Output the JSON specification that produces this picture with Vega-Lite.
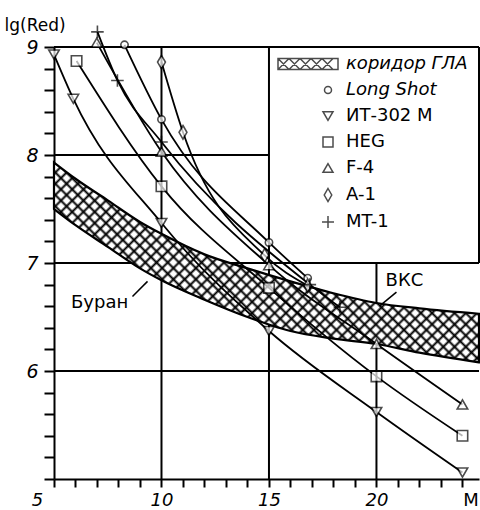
{
  "$schema": "https://vega.github.io/schema/vega-lite/v6.json",
  "width": 425,
  "height": 432,
  "autosize": {"type": "none"},
  "padding": {"left": 54, "top": 47, "right": 1, "bottom": 31},
  "background": "white",
  "config": {
    "view": {"stroke": null},
    "font": "DejaVu Sans",
    "legend": {"symbolBaseStrokeColor": "black"}
  },
  "datasets": {
    "band": [
      {"x": 5, "y": 7.93, "y2": 7.5},
      {"x": 6, "y": 7.78, "y2": 7.35},
      {"x": 7.5, "y": 7.58, "y2": 7.15},
      {"x": 9, "y": 7.38, "y2": 6.95},
      {"x": 10, "y": 7.27, "y2": 6.84},
      {"x": 12, "y": 7.08, "y2": 6.66},
      {"x": 14, "y": 6.95, "y2": 6.5},
      {"x": 16, "y": 6.83, "y2": 6.37},
      {"x": 18, "y": 6.72, "y2": 6.3},
      {"x": 20, "y": 6.63, "y2": 6.25},
      {"x": 22, "y": 6.58, "y2": 6.17},
      {"x": 24.77, "y": 6.53, "y2": 6.08}
    ],
    "grid": [
      {"x": 5, "x2": 24.77, "y": 9, "y2": 9},
      {"x": 5, "x2": 15, "y": 8, "y2": 8},
      {"x": 5, "x2": 24.77, "y": 7, "y2": 7},
      {"x": 5, "x2": 24.77, "y": 6, "y2": 6},
      {"x": 10, "x2": 10, "y": 5, "y2": 9},
      {"x": 15, "x2": 15, "y": 5, "y2": 9},
      {"x": 20, "x2": 20, "y": 5, "y2": 7},
      {"x": 24.77, "x2": 24.77, "y": 7, "y2": 9}
    ],
    "curves": [
      {"series": "Long Shot", "x": 8.28, "y": 9.02},
      {"series": "Long Shot", "x": 10, "y": 8.33},
      {"series": "Long Shot", "x": 15, "y": 7.19},
      {"series": "Long Shot", "x": 16.8, "y": 6.86},
      {"series": "ИТ-302 М", "x": 5, "y": 8.93},
      {"series": "ИТ-302 М", "x": 5.9, "y": 8.52},
      {"series": "ИТ-302 М", "x": 10, "y": 7.37},
      {"series": "ИТ-302 М", "x": 15, "y": 6.37},
      {"series": "ИТ-302 М", "x": 20, "y": 5.62},
      {"series": "ИТ-302 М", "x": 24, "y": 5.06},
      {"series": "HEG", "x": 6.05, "y": 8.87},
      {"series": "HEG", "x": 10, "y": 7.71},
      {"series": "HEG", "x": 15, "y": 6.77},
      {"series": "HEG", "x": 20, "y": 5.95},
      {"series": "HEG", "x": 24, "y": 5.4},
      {"series": "F-4", "x": 6.99, "y": 9.04},
      {"series": "F-4", "x": 10, "y": 8.03},
      {"series": "F-4", "x": 15, "y": 6.98},
      {"series": "F-4", "x": 20, "y": 6.25},
      {"series": "F-4", "x": 24, "y": 5.69},
      {"series": "A-1", "x": 10, "y": 8.86},
      {"series": "A-1", "x": 11, "y": 8.21},
      {"series": "A-1", "x": 14.8, "y": 7.07},
      {"series": "A-1", "x": 16.8, "y": 6.79},
      {"series": "MT-1", "x": 7.02, "y": 9.14},
      {"series": "MT-1", "x": 7.95, "y": 8.69},
      {"series": "MT-1", "x": 10, "y": 8.12},
      {"series": "MT-1", "x": 16.9, "y": 6.8},
      {"series": "MT-1", "x": 18.3, "y": 6.59}
    ],
    "notes": [
      {"label": "Буран", "x": 7.12, "y": 6.63},
      {"label": "ВКС", "x": 21.3, "y": 6.83}
    ],
    "pointers": [
      {"x": 8.65, "y": 6.69, "x2": 9.35, "y2": 6.83},
      {"x": 20.93, "y": 6.73, "x2": 20.14, "y2": 6.6}
    ]
  },
  "encoding": {
    "x": {
      "field": "x", "type": "quantitative",
      "scale": {"domain": [5, 24.77], "nice": false, "zero": false},
      "axis": {
        "title": null,
        "values": [5, 6, 7, 8, 9, 10, 11, 12, 13, 14, 15, 16, 17, 18, 19, 20, 21, 22, 23, 24],
        "labelExpr": "datum.value == 24 ? 'M' : (datum.value % 5 == 0 ? datum.label : '')",
        "grid": false,
        "tickSize": 8, "tickWidth": 2, "tickColor": "black",
        "domainColor": "black", "domainWidth": 2,
        "labelFontSize": 18, "labelColor": "black", "labelPadding": 4,
        "labelFlush": false, "labelOverlap": false, "labelBound": false,
        "labelOffset": {"condition": [{"test": "datum.value == 5", "value": -17}, {"test": "datum.value == 24", "value": 8}], "value": 0},
        "labelFontStyle": {"condition": {"test": "datum.value == 24", "value": "normal"}, "value": "italic"}
      }
    },
    "y": {
      "field": "y", "type": "quantitative",
      "scale": {"domain": [5, 9], "nice": false, "zero": false},
      "axis": {
        "title": "lg(Red)",
        "titleAngle": 0, "titleX": -50, "titleY": -17, "titleAlign": "left", "titleBaseline": "alphabetic",
        "titleFontSize": 17, "titleFontWeight": "normal", "titleColor": "black",
        "values": [5, 5.2, 5.4, 5.6, 5.8, 6, 6.2, 6.4, 6.6, 6.8, 7, 7.2, 7.4, 7.6, 7.8, 8, 8.2, 8.4, 8.6, 8.8, 9],
        "format": ".0f",
        "labelExpr": "(datum.value == 6 || datum.value == 7 || datum.value == 8 || datum.value == 9) ? datum.label : ''",
        "grid": false,
        "tickSize": 10, "tickWidth": 2, "tickColor": "black",
        "domainColor": "black", "domainWidth": 2,
        "labelFontSize": 19, "labelFontStyle": "italic", "labelColor": "black", "labelPadding": 6,
        "labelOverlap": false, "labelBound": false, "labelFlush": false
      }
    }
  },
  "layer": [
    {
      "data": {"name": "grid"},
      "mark": {"type": "rule", "stroke": "black", "strokeWidth": 2},
      "encoding": {"x2": {"field": "x2"}, "y2": {"field": "y2"}}
    },
    {
      "data": {"name": "band"},
      "mark": {
        "type": "area", "interpolate": "monotone", "stroke": null,
        "fill": {
          "gradient": "linear", "x1": 0, "y1": 1, "x2": 1.204, "y2": 0.434,
          "stops": [
            {"offset": 0, "color": "#000"}, {"offset": 0.0045, "color": "#fff"}, {"offset": 0.0135, "color": "#fff"},
            {"offset": 0.018, "color": "#000"}, {"offset": 0.0225, "color": "#fff"}, {"offset": 0.0315, "color": "#fff"},
            {"offset": 0.036, "color": "#000"}, {"offset": 0.0405, "color": "#fff"}, {"offset": 0.0495, "color": "#fff"},
            {"offset": 0.054, "color": "#000"}, {"offset": 0.0585, "color": "#fff"}, {"offset": 0.0675, "color": "#fff"},
            {"offset": 0.072, "color": "#000"}, {"offset": 0.0765, "color": "#fff"}, {"offset": 0.0855, "color": "#fff"},
            {"offset": 0.09, "color": "#000"}, {"offset": 0.0945, "color": "#fff"}, {"offset": 0.1035, "color": "#fff"},
            {"offset": 0.108, "color": "#000"}, {"offset": 0.1125, "color": "#fff"}, {"offset": 0.1215, "color": "#fff"},
            {"offset": 0.126, "color": "#000"}, {"offset": 0.1305, "color": "#fff"}, {"offset": 0.1395, "color": "#fff"},
            {"offset": 0.144, "color": "#000"}, {"offset": 0.1485, "color": "#fff"}, {"offset": 0.1575, "color": "#fff"},
            {"offset": 0.162, "color": "#000"}, {"offset": 0.1665, "color": "#fff"}, {"offset": 0.1755, "color": "#fff"},
            {"offset": 0.18, "color": "#000"}, {"offset": 0.1845, "color": "#fff"}, {"offset": 0.1935, "color": "#fff"},
            {"offset": 0.198, "color": "#000"}, {"offset": 0.2025, "color": "#fff"}, {"offset": 0.2115, "color": "#fff"},
            {"offset": 0.216, "color": "#000"}, {"offset": 0.2205, "color": "#fff"}, {"offset": 0.2295, "color": "#fff"},
            {"offset": 0.234, "color": "#000"}, {"offset": 0.2385, "color": "#fff"}, {"offset": 0.2475, "color": "#fff"},
            {"offset": 0.252, "color": "#000"}, {"offset": 0.2565, "color": "#fff"}, {"offset": 0.2655, "color": "#fff"},
            {"offset": 0.27, "color": "#000"}, {"offset": 0.2745, "color": "#fff"}, {"offset": 0.2835, "color": "#fff"},
            {"offset": 0.288, "color": "#000"}, {"offset": 0.2925, "color": "#fff"}, {"offset": 0.3015, "color": "#fff"},
            {"offset": 0.306, "color": "#000"}, {"offset": 0.3105, "color": "#fff"}, {"offset": 0.3195, "color": "#fff"},
            {"offset": 0.324, "color": "#000"}, {"offset": 0.3285, "color": "#fff"}, {"offset": 0.3375, "color": "#fff"},
            {"offset": 0.342, "color": "#000"}, {"offset": 0.3465, "color": "#fff"}, {"offset": 0.3555, "color": "#fff"},
            {"offset": 0.36, "color": "#000"}, {"offset": 0.3645, "color": "#fff"}, {"offset": 0.3735, "color": "#fff"},
            {"offset": 0.378, "color": "#000"}, {"offset": 0.3825, "color": "#fff"}, {"offset": 0.3915, "color": "#fff"},
            {"offset": 0.396, "color": "#000"}, {"offset": 0.4005, "color": "#fff"}, {"offset": 0.4095, "color": "#fff"},
            {"offset": 0.414, "color": "#000"}, {"offset": 0.4185, "color": "#fff"}, {"offset": 0.4275, "color": "#fff"},
            {"offset": 0.432, "color": "#000"}, {"offset": 0.4365, "color": "#fff"}, {"offset": 0.4455, "color": "#fff"},
            {"offset": 0.45, "color": "#000"}, {"offset": 0.4545, "color": "#fff"}, {"offset": 0.4635, "color": "#fff"},
            {"offset": 0.468, "color": "#000"}, {"offset": 0.4725, "color": "#fff"}, {"offset": 0.4815, "color": "#fff"},
            {"offset": 0.486, "color": "#000"}, {"offset": 0.4905, "color": "#fff"}, {"offset": 0.4995, "color": "#fff"},
            {"offset": 0.504, "color": "#000"}, {"offset": 0.5085, "color": "#fff"}, {"offset": 0.5175, "color": "#fff"},
            {"offset": 0.522, "color": "#000"}, {"offset": 0.5265, "color": "#fff"}, {"offset": 0.5355, "color": "#fff"},
            {"offset": 0.54, "color": "#000"}, {"offset": 0.5445, "color": "#fff"}, {"offset": 0.5535, "color": "#fff"},
            {"offset": 0.558, "color": "#000"}, {"offset": 0.5625, "color": "#fff"}, {"offset": 0.5715, "color": "#fff"},
            {"offset": 0.576, "color": "#000"}, {"offset": 0.5805, "color": "#fff"}, {"offset": 0.5895, "color": "#fff"},
            {"offset": 0.594, "color": "#000"}, {"offset": 0.5985, "color": "#fff"}, {"offset": 0.6075, "color": "#fff"},
            {"offset": 0.612, "color": "#000"}, {"offset": 0.6165, "color": "#fff"}, {"offset": 0.6255, "color": "#fff"},
            {"offset": 0.63, "color": "#000"}, {"offset": 0.6345, "color": "#fff"}, {"offset": 0.6435, "color": "#fff"},
            {"offset": 0.648, "color": "#000"}, {"offset": 0.6525, "color": "#fff"}, {"offset": 0.6615, "color": "#fff"},
            {"offset": 0.666, "color": "#000"}, {"offset": 0.6705, "color": "#fff"}, {"offset": 0.6795, "color": "#fff"},
            {"offset": 0.684, "color": "#000"}, {"offset": 0.6885, "color": "#fff"}, {"offset": 0.6975, "color": "#fff"},
            {"offset": 0.702, "color": "#000"}, {"offset": 0.7065, "color": "#fff"}, {"offset": 0.7155, "color": "#fff"},
            {"offset": 0.72, "color": "#000"}, {"offset": 0.7245, "color": "#fff"}, {"offset": 0.7335, "color": "#fff"},
            {"offset": 0.738, "color": "#000"}, {"offset": 0.7425, "color": "#fff"}, {"offset": 0.7515, "color": "#fff"},
            {"offset": 0.756, "color": "#000"}, {"offset": 0.7605, "color": "#fff"}, {"offset": 0.7695, "color": "#fff"},
            {"offset": 0.774, "color": "#000"}, {"offset": 0.7785, "color": "#fff"}, {"offset": 0.7875, "color": "#fff"},
            {"offset": 0.792, "color": "#000"}, {"offset": 0.7965, "color": "#fff"}, {"offset": 0.8055, "color": "#fff"},
            {"offset": 0.81, "color": "#000"}, {"offset": 0.8145, "color": "#fff"}, {"offset": 0.8235, "color": "#fff"},
            {"offset": 0.828, "color": "#000"}, {"offset": 0.8325, "color": "#fff"}, {"offset": 0.8415, "color": "#fff"},
            {"offset": 0.846, "color": "#000"}, {"offset": 0.8505, "color": "#fff"}, {"offset": 0.8595, "color": "#fff"},
            {"offset": 0.864, "color": "#000"}, {"offset": 0.8685, "color": "#fff"}, {"offset": 0.8775, "color": "#fff"},
            {"offset": 0.882, "color": "#000"}, {"offset": 0.8865, "color": "#fff"}, {"offset": 0.8955, "color": "#fff"},
            {"offset": 0.9, "color": "#000"}, {"offset": 0.9045, "color": "#fff"}, {"offset": 0.9135, "color": "#fff"},
            {"offset": 0.918, "color": "#000"}, {"offset": 0.9225, "color": "#fff"}, {"offset": 0.9315, "color": "#fff"},
            {"offset": 0.936, "color": "#000"}, {"offset": 0.9405, "color": "#fff"}, {"offset": 0.9495, "color": "#fff"},
            {"offset": 0.954, "color": "#000"}, {"offset": 0.9585, "color": "#fff"}, {"offset": 0.9675, "color": "#fff"},
            {"offset": 0.972, "color": "#000"}, {"offset": 0.9765, "color": "#fff"}, {"offset": 0.9855, "color": "#fff"},
            {"offset": 0.99, "color": "#000"}, {"offset": 0.9945, "color": "#fff"}, {"offset": 1, "color": "#fff"}
          ]
        }
      },
      "encoding": {"y2": {"field": "y2"}}
    },
    {
      "data": {"name": "band"},
      "mark": {
        "type": "area", "interpolate": "monotone", "stroke": "black", "strokeWidth": 2.2,
        "fill": {
          "gradient": "linear", "x1": 0, "y1": 0, "x2": 1.204, "y2": 0.566,
          "stops": [
            {"offset": 0, "color": "#000"}, {"offset": 0.0045, "color": "rgba(0,0,0,0)"}, {"offset": 0.0135, "color": "rgba(0,0,0,0)"},
            {"offset": 0.018, "color": "#000"}, {"offset": 0.0225, "color": "rgba(0,0,0,0)"}, {"offset": 0.0315, "color": "rgba(0,0,0,0)"},
            {"offset": 0.036, "color": "#000"}, {"offset": 0.0405, "color": "rgba(0,0,0,0)"}, {"offset": 0.0495, "color": "rgba(0,0,0,0)"},
            {"offset": 0.054, "color": "#000"}, {"offset": 0.0585, "color": "rgba(0,0,0,0)"}, {"offset": 0.0675, "color": "rgba(0,0,0,0)"},
            {"offset": 0.072, "color": "#000"}, {"offset": 0.0765, "color": "rgba(0,0,0,0)"}, {"offset": 0.0855, "color": "rgba(0,0,0,0)"},
            {"offset": 0.09, "color": "#000"}, {"offset": 0.0945, "color": "rgba(0,0,0,0)"}, {"offset": 0.1035, "color": "rgba(0,0,0,0)"},
            {"offset": 0.108, "color": "#000"}, {"offset": 0.1125, "color": "rgba(0,0,0,0)"}, {"offset": 0.1215, "color": "rgba(0,0,0,0)"},
            {"offset": 0.126, "color": "#000"}, {"offset": 0.1305, "color": "rgba(0,0,0,0)"}, {"offset": 0.1395, "color": "rgba(0,0,0,0)"},
            {"offset": 0.144, "color": "#000"}, {"offset": 0.1485, "color": "rgba(0,0,0,0)"}, {"offset": 0.1575, "color": "rgba(0,0,0,0)"},
            {"offset": 0.162, "color": "#000"}, {"offset": 0.1665, "color": "rgba(0,0,0,0)"}, {"offset": 0.1755, "color": "rgba(0,0,0,0)"},
            {"offset": 0.18, "color": "#000"}, {"offset": 0.1845, "color": "rgba(0,0,0,0)"}, {"offset": 0.1935, "color": "rgba(0,0,0,0)"},
            {"offset": 0.198, "color": "#000"}, {"offset": 0.2025, "color": "rgba(0,0,0,0)"}, {"offset": 0.2115, "color": "rgba(0,0,0,0)"},
            {"offset": 0.216, "color": "#000"}, {"offset": 0.2205, "color": "rgba(0,0,0,0)"}, {"offset": 0.2295, "color": "rgba(0,0,0,0)"},
            {"offset": 0.234, "color": "#000"}, {"offset": 0.2385, "color": "rgba(0,0,0,0)"}, {"offset": 0.2475, "color": "rgba(0,0,0,0)"},
            {"offset": 0.252, "color": "#000"}, {"offset": 0.2565, "color": "rgba(0,0,0,0)"}, {"offset": 0.2655, "color": "rgba(0,0,0,0)"},
            {"offset": 0.27, "color": "#000"}, {"offset": 0.2745, "color": "rgba(0,0,0,0)"}, {"offset": 0.2835, "color": "rgba(0,0,0,0)"},
            {"offset": 0.288, "color": "#000"}, {"offset": 0.2925, "color": "rgba(0,0,0,0)"}, {"offset": 0.3015, "color": "rgba(0,0,0,0)"},
            {"offset": 0.306, "color": "#000"}, {"offset": 0.3105, "color": "rgba(0,0,0,0)"}, {"offset": 0.3195, "color": "rgba(0,0,0,0)"},
            {"offset": 0.324, "color": "#000"}, {"offset": 0.3285, "color": "rgba(0,0,0,0)"}, {"offset": 0.3375, "color": "rgba(0,0,0,0)"},
            {"offset": 0.342, "color": "#000"}, {"offset": 0.3465, "color": "rgba(0,0,0,0)"}, {"offset": 0.3555, "color": "rgba(0,0,0,0)"},
            {"offset": 0.36, "color": "#000"}, {"offset": 0.3645, "color": "rgba(0,0,0,0)"}, {"offset": 0.3735, "color": "rgba(0,0,0,0)"},
            {"offset": 0.378, "color": "#000"}, {"offset": 0.3825, "color": "rgba(0,0,0,0)"}, {"offset": 0.3915, "color": "rgba(0,0,0,0)"},
            {"offset": 0.396, "color": "#000"}, {"offset": 0.4005, "color": "rgba(0,0,0,0)"}, {"offset": 0.4095, "color": "rgba(0,0,0,0)"},
            {"offset": 0.414, "color": "#000"}, {"offset": 0.4185, "color": "rgba(0,0,0,0)"}, {"offset": 0.4275, "color": "rgba(0,0,0,0)"},
            {"offset": 0.432, "color": "#000"}, {"offset": 0.4365, "color": "rgba(0,0,0,0)"}, {"offset": 0.4455, "color": "rgba(0,0,0,0)"},
            {"offset": 0.45, "color": "#000"}, {"offset": 0.4545, "color": "rgba(0,0,0,0)"}, {"offset": 0.4635, "color": "rgba(0,0,0,0)"},
            {"offset": 0.468, "color": "#000"}, {"offset": 0.4725, "color": "rgba(0,0,0,0)"}, {"offset": 0.4815, "color": "rgba(0,0,0,0)"},
            {"offset": 0.486, "color": "#000"}, {"offset": 0.4905, "color": "rgba(0,0,0,0)"}, {"offset": 0.4995, "color": "rgba(0,0,0,0)"},
            {"offset": 0.504, "color": "#000"}, {"offset": 0.5085, "color": "rgba(0,0,0,0)"}, {"offset": 0.5175, "color": "rgba(0,0,0,0)"},
            {"offset": 0.522, "color": "#000"}, {"offset": 0.5265, "color": "rgba(0,0,0,0)"}, {"offset": 0.5355, "color": "rgba(0,0,0,0)"},
            {"offset": 0.54, "color": "#000"}, {"offset": 0.5445, "color": "rgba(0,0,0,0)"}, {"offset": 0.5535, "color": "rgba(0,0,0,0)"},
            {"offset": 0.558, "color": "#000"}, {"offset": 0.5625, "color": "rgba(0,0,0,0)"}, {"offset": 0.5715, "color": "rgba(0,0,0,0)"},
            {"offset": 0.576, "color": "#000"}, {"offset": 0.5805, "color": "rgba(0,0,0,0)"}, {"offset": 0.5895, "color": "rgba(0,0,0,0)"},
            {"offset": 0.594, "color": "#000"}, {"offset": 0.5985, "color": "rgba(0,0,0,0)"}, {"offset": 0.6075, "color": "rgba(0,0,0,0)"},
            {"offset": 0.612, "color": "#000"}, {"offset": 0.6165, "color": "rgba(0,0,0,0)"}, {"offset": 0.6255, "color": "rgba(0,0,0,0)"},
            {"offset": 0.63, "color": "#000"}, {"offset": 0.6345, "color": "rgba(0,0,0,0)"}, {"offset": 0.6435, "color": "rgba(0,0,0,0)"},
            {"offset": 0.648, "color": "#000"}, {"offset": 0.6525, "color": "rgba(0,0,0,0)"}, {"offset": 0.6615, "color": "rgba(0,0,0,0)"},
            {"offset": 0.666, "color": "#000"}, {"offset": 0.6705, "color": "rgba(0,0,0,0)"}, {"offset": 0.6795, "color": "rgba(0,0,0,0)"},
            {"offset": 0.684, "color": "#000"}, {"offset": 0.6885, "color": "rgba(0,0,0,0)"}, {"offset": 0.6975, "color": "rgba(0,0,0,0)"},
            {"offset": 0.702, "color": "#000"}, {"offset": 0.7065, "color": "rgba(0,0,0,0)"}, {"offset": 0.7155, "color": "rgba(0,0,0,0)"},
            {"offset": 0.72, "color": "#000"}, {"offset": 0.7245, "color": "rgba(0,0,0,0)"}, {"offset": 0.7335, "color": "rgba(0,0,0,0)"},
            {"offset": 0.738, "color": "#000"}, {"offset": 0.7425, "color": "rgba(0,0,0,0)"}, {"offset": 0.7515, "color": "rgba(0,0,0,0)"},
            {"offset": 0.756, "color": "#000"}, {"offset": 0.7605, "color": "rgba(0,0,0,0)"}, {"offset": 0.7695, "color": "rgba(0,0,0,0)"},
            {"offset": 0.774, "color": "#000"}, {"offset": 0.7785, "color": "rgba(0,0,0,0)"}, {"offset": 0.7875, "color": "rgba(0,0,0,0)"},
            {"offset": 0.792, "color": "#000"}, {"offset": 0.7965, "color": "rgba(0,0,0,0)"}, {"offset": 0.8055, "color": "rgba(0,0,0,0)"},
            {"offset": 0.81, "color": "#000"}, {"offset": 0.8145, "color": "rgba(0,0,0,0)"}, {"offset": 0.8235, "color": "rgba(0,0,0,0)"},
            {"offset": 0.828, "color": "#000"}, {"offset": 0.8325, "color": "rgba(0,0,0,0)"}, {"offset": 0.8415, "color": "rgba(0,0,0,0)"},
            {"offset": 0.846, "color": "#000"}, {"offset": 0.8505, "color": "rgba(0,0,0,0)"}, {"offset": 0.8595, "color": "rgba(0,0,0,0)"},
            {"offset": 0.864, "color": "#000"}, {"offset": 0.8685, "color": "rgba(0,0,0,0)"}, {"offset": 0.8775, "color": "rgba(0,0,0,0)"},
            {"offset": 0.882, "color": "#000"}, {"offset": 0.8865, "color": "rgba(0,0,0,0)"}, {"offset": 0.8955, "color": "rgba(0,0,0,0)"},
            {"offset": 0.9, "color": "#000"}, {"offset": 0.9045, "color": "rgba(0,0,0,0)"}, {"offset": 0.9135, "color": "rgba(0,0,0,0)"},
            {"offset": 0.918, "color": "#000"}, {"offset": 0.9225, "color": "rgba(0,0,0,0)"}, {"offset": 0.9315, "color": "rgba(0,0,0,0)"},
            {"offset": 0.936, "color": "#000"}, {"offset": 0.9405, "color": "rgba(0,0,0,0)"}, {"offset": 0.9495, "color": "rgba(0,0,0,0)"},
            {"offset": 0.954, "color": "#000"}, {"offset": 0.9585, "color": "rgba(0,0,0,0)"}, {"offset": 0.9675, "color": "rgba(0,0,0,0)"},
            {"offset": 0.972, "color": "#000"}, {"offset": 0.9765, "color": "rgba(0,0,0,0)"}, {"offset": 0.9855, "color": "rgba(0,0,0,0)"},
            {"offset": 0.99, "color": "#000"}, {"offset": 0.9945, "color": "rgba(0,0,0,0)"}, {"offset": 1, "color": "rgba(0,0,0,0)"}
          ]
        }
      },
      "encoding": {"y2": {"field": "y2"}}
    },
    {
      "data": {"name": "curves"},
      "mark": {"type": "line", "interpolate": "monotone", "stroke": "black", "strokeWidth": 1.8},
      "encoding": {"detail": {"field": "series", "type": "nominal"}}
    },
    {
      "data": {"name": "pointers"},
      "mark": {"type": "rule", "stroke": "black", "strokeWidth": 1.5},
      "encoding": {"x2": {"field": "x2"}, "y2": {"field": "y2"}}
    },
    {
      "data": {"name": "notes"},
      "mark": {"type": "text", "fontSize": 18, "fill": "black", "align": "center", "baseline": "middle"},
      "encoding": {"text": {"field": "label"}}
    },
    {
      "data": {"name": "curves"},
      "mark": {"type": "point", "filled": true, "fill": "white", "stroke": "black", "strokeWidth": 1.6, "size": 110},
      "encoding": {
        "shape": {
          "field": "series", "type": "nominal",
          "scale": {
            "domain": ["коридор ГЛА", "Long Shot", "ИТ-302 М", "HEG", "F-4", "A-1", "MT-1"],
            "range": [
              "M-10,-1.1L2,-1.1L2,1.1L-10,1.1ZM-10,-1.1L-7.8,1.1M-7.8,-1.1L-10,1.1M-7.8,-1.1L-5.6,1.1M-5.6,-1.1L-7.8,1.1M-5.6,-1.1L-3.4,1.1M-3.4,-1.1L-5.6,1.1M-3.4,-1.1L-1.2,1.1M-1.2,-1.1L-3.4,1.1M-1.2,-1.1L1,1.1M1,-1.1L-1.2,1.1",
              "M0,-0.7A0.7,0.7,0,1,1,0,0.7A0.7,0.7,0,1,1,0,-0.7Z",
              "triangle-down",
              "square",
              "triangle-up",
              "M0,-1.3L0.75,0L0,1.3L-0.75,0Z",
              "M-1.2,0L1.2,0M0,-1.2L0,1.2"
            ]
          },
          "legend": {
            "title": null, "orient": "none", "legendX": 265, "legendY": 8,
            "rowPadding": 8, "labelOffset": 9,
            "labelFontSize": 18, "labelColor": "black",
            "labelFontStyle": {"expr": "(datum.label == 'коридор ГЛА' || datum.label == 'Long Shot') ? 'italic' : 'normal'"}
          }
        }
      }
    }
  ]
}
